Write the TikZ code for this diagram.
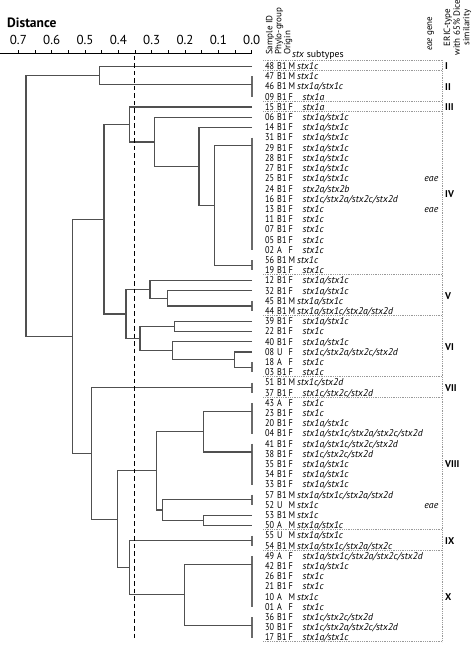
\documentclass[tikz,border=0pt]{standalone}
\usepackage{fontspec}
\setmainfont{PT Sans}
\newfontfamily\narrowpt[FakeStretch=0.84]{PT Sans}
\usetikzlibrary{calc}
\definecolor{treec}{HTML}{505050}
\definecolor{barc}{HTML}{6A6A6A}
\definecolor{boxc}{HTML}{999999}
\def\tmpM{M}
\newcommand\rowfont{\fontsize{9.8}{10}\selectfont}
\newcommand\idfont{\narrowpt\fontsize{9.8}{10}\selectfont}
\newcommand\dendrow[6]{%
  \node[idtxt] (id#1) at (265,{69.6+10.2*(#1-1)}) {#2};
  \node[idtxt] (ph#1) at (277,{69.6+10.2*(#1-1)}) {#3};
  \node[idtxt] (or#1) at (288.3,{69.6+10.2*(#1-1)}) {#4};
  \def\tmpo{#4}\ifx\tmpo\tmpM\def\stxx{297}\else\def\stxx{302.5}\fi
  \node[rowtxt,font=\rowfont\itshape] (st#1) at (\stxx,{69.6+10.2*(#1-1)}) {#5};
  \if\relax\detokenize{#6}\relax\else
  \node[rowtxt,anchor=base east,font=\rowfont\itshape] (ea#1) at (438.5,{69.6+10.2*(#1-1)}) {#6};\fi
}
\newcommand\tjoin[4]{%
  \path let \p1=($(#3)!0.5!(#4)$) in coordinate (#1) at (#2pt,\y1);
  \draw[tree] (#3) -| (#1) |- (#4);}
\newcommand\ericlab[3]{\node[erictxt] (e#1) at (445,{66.3+10.2*((#2+#3)/2-1)}) {#1};}
\begin{document}
\begin{tikzpicture}[x=1pt,y=-1pt,
  tree/.style={draw=treec,line width=1.2pt},
  leafbar/.style={draw=barc,line width=2pt},
  cut/.style={draw=black,line width=1.1pt,dash pattern=on 4.5pt off 3pt},
  sep/.style={draw=boxc,line width=0.7pt,dash pattern=on 0.9pt off 0.9pt},
  rowtxt/.style={anchor=base west,inner sep=0pt,font=\rowfont},
  idtxt/.style={anchor=base west,inner sep=0pt,font=\idfont},
  hdr/.style={inner sep=0pt,font=\fontsize{9}{9.6}\selectfont},
  erictxt/.style={anchor=west,inner sep=0pt,font=\fontsize{9.8}{10}\selectfont\bfseries},
  ticklab/.style={inner sep=0pt,font=\fontsize{13}{14}\selectfont},
  axisln/.style={draw=black,line width=1pt}]
\useasboundingbox (0,0) rectangle (472,647);
% axis
\node[inner sep=0pt,anchor=west,font=\fontsize{13.5}{14}\selectfont\bfseries] (dist) at (7,23) {Distance};
\foreach \k in {0,...,7} \node[ticklab] (t\k) at ({251.7-33.333*\k},40) {0.\k};
\coordinate (axl) at (0,54); \coordinate (axr) at (252.3,54);
\draw[axisln] (axl) -- (axr);
\foreach \k in {0,...,14} \draw[axisln] ({251.7-16.667*\k},54) -- ++(0,-3.5);
% headers
\node[hdr,rotate=90,anchor=base west] (hSample) at (272.3,55) {Sample ID};
\node[hdr,rotate=90,anchor=base west] (hPhylo) at (281.3,55) {Phylo-group};
\node[hdr,rotate=90,anchor=base west] (hOrigin) at (290.3,55) {Origin};
\node[hdr,font=\rowfont,anchor=base west] (hStx) at (292,57.5) {\textit{stx} subtypes};
\node[hdr,rotate=90,anchor=base west] (hEae) at (432,51) {\textit{eae} gene};
\node[hdr,rotate=90,align=center] (hEric) at (457.5,27.5) {ERIC-type\\with 65\% Dice\\similarity};
% rows
\dendrow{1}{48}{B1}{M}{stx1c}{}
\dendrow{2}{47}{B1}{M}{stx1c}{}
\dendrow{3}{46}{B1}{M}{stx1a/stx1c}{}
\dendrow{4}{09}{B1}{F}{stx1a}{}
\dendrow{5}{15}{B1}{F}{stx1a}{}
\dendrow{6}{06}{B1}{F}{stx1a/stx1c}{}
\dendrow{7}{14}{B1}{F}{stx1a/stx1c}{}
\dendrow{8}{31}{B1}{F}{stx1a/stx1c}{}
\dendrow{9}{29}{B1}{F}{stx1a/stx1c}{}
\dendrow{10}{28}{B1}{F}{stx1a/stx1c}{}
\dendrow{11}{27}{B1}{F}{stx1a/stx1c}{}
\dendrow{12}{25}{B1}{F}{stx1a/stx1c}{eae}
\dendrow{13}{24}{B1}{F}{stx2a/stx2b}{}
\dendrow{14}{16}{B1}{F}{stx1c/stx2a/stx2c/stx2d}{}
\dendrow{15}{13}{B1}{F}{stx1c}{eae}
\dendrow{16}{11}{B1}{F}{stx1c}{}
\dendrow{17}{07}{B1}{F}{stx1c}{}
\dendrow{18}{05}{B1}{F}{stx1c}{}
\dendrow{19}{02}{A}{F}{stx1c}{}
\dendrow{20}{56}{B1}{M}{stx1c}{}
\dendrow{21}{19}{B1}{F}{stx1c}{}
\dendrow{22}{12}{B1}{F}{stx1a/stx1c}{}
\dendrow{23}{32}{B1}{F}{stx1a/stx1c}{}
\dendrow{24}{45}{B1}{M}{stx1a/stx1c}{}
\dendrow{25}{44}{B1}{M}{stx1a/stx1c/stx2a/stx2d}{}
\dendrow{26}{39}{B1}{F}{stx1a/stx1c}{}
\dendrow{27}{22}{B1}{F}{stx1c}{}
\dendrow{28}{40}{B1}{F}{stx1a/stx1c}{}
\dendrow{29}{08}{U}{F}{stx1c/stx2a/stx2c/stx2d}{}
\dendrow{30}{18}{A}{F}{stx1c}{}
\dendrow{31}{03}{B1}{F}{stx1c}{}
\dendrow{32}{51}{B1}{M}{stx1c/stx2d}{}
\dendrow{33}{37}{B1}{F}{stx1c/stx2c/stx2d}{}
\dendrow{34}{43}{A}{F}{stx1c}{}
\dendrow{35}{23}{B1}{F}{stx1c}{}
\dendrow{36}{20}{B1}{F}{stx1a/stx1c}{}
\dendrow{37}{04}{B1}{F}{stx1a/stx1c/stx2a/stx2c/stx2d}{}
\dendrow{38}{41}{B1}{F}{stx1a/stx1c/stx2c/stx2d}{}
\dendrow{39}{38}{B1}{F}{stx1c/stx2c/stx2d}{}
\dendrow{40}{35}{B1}{F}{stx1a/stx1c}{}
\dendrow{41}{34}{B1}{F}{stx1a/stx1c}{}
\dendrow{42}{33}{B1}{F}{stx1a/stx1c}{}
\dendrow{43}{57}{B1}{M}{stx1a/stx1c/stx2a/stx2d}{}
\dendrow{44}{52}{U}{M}{stx1c}{eae}
\dendrow{45}{53}{B1}{M}{stx1c}{}
\dendrow{46}{50}{A}{M}{stx1a/stx1c}{}
\dendrow{47}{55}{U}{M}{stx1a/stx1c}{}
\dendrow{48}{54}{B1}{M}{stx1a/stx1c/stx2a/stx2c}{}
\dendrow{49}{49}{A}{F}{stx1a/stx1c/stx2a/stx2c/stx2d}{}
\dendrow{50}{42}{B1}{F}{stx1a/stx1c}{}
\dendrow{51}{26}{B1}{F}{stx1c}{}
\dendrow{52}{21}{B1}{F}{stx1c}{}
\dendrow{53}{10}{A}{M}{stx1c}{}
\dendrow{54}{01}{A}{F}{stx1c}{}
\dendrow{55}{36}{B1}{F}{stx1c/stx2c/stx2d}{}
\dendrow{56}{30}{B1}{F}{stx1c/stx2a/stx2c/stx2d}{}
\dendrow{57}{17}{B1}{F}{stx1a/stx1c}{}
% group separators
\foreach \k in {0,1,4,5,21,25,31,33,46,48,57}
  \draw[sep] (263,{70.6+10.2*(\k-1)}) -- (442,{70.6+10.2*(\k-1)});
\draw[sep] (442,60.4) -- (442,641.8);
% ERIC labels
\ericlab{I}{1}{1}
\ericlab{II}{2}{4}
\ericlab{III}{5}{5}
\ericlab{IV}{6}{21}
\ericlab{V}{22}{25}
\ericlab{VI}{26}{31}
\ericlab{VII}{32}{33}
\ericlab{VIII}{34}{46}
\ericlab{IX}{47}{48}
\ericlab{X}{49}{57}
% leaves
\foreach \n in {1,...,57} \coordinate (r\n) at (252,{66.3+10.2*(\n-1)});
\coordinate (g2) at ($(r2)+(0,8.2)$);
\coordinate (g8) at ($(r8)+(0,8.2)$);
\coordinate (g20) at ($(r20)!0.5!(r21)$);
\coordinate (g24) at ($(r24)!0.5!(r25)$);
\coordinate (g30) at ($(r30)!0.5!(r31)$);
\coordinate (g32) at ($(r32)!0.5!(r33)$);
\coordinate (g34) at ($(r34)+(0,8.2)$);
\coordinate (g38) at ($(r38)+(0,8.2)$);
\coordinate (g43) at ($(r43)!0.5!(r44)$);
\coordinate (g47) at ($(r47)!0.5!(r48)$);
\coordinate (g49) at ($(r49)+(0,8.2)$);
\coordinate (g55) at ($(r55)+(0,8.2)$);
\foreach \a/\b in {2/4,8/19,20/21,24/25,30/31,32/33,34/37,38/42,43/44,47/48,49/54,55/57}
  \draw[leafbar] (r\a) -- (r\b);
% tree
\tjoin{nA}{99.3}{r1}{g2}
\tjoin{n8}{214.3}{g8}{g20}
\tjoin{n7}{199}{r7}{n8}
\tjoin{n6}{154.7}{r6}{n7}
\tjoin{n5}{129.3}{r5}{n6}
\tjoin{nVb}{167.7}{r23}{g24}
\tjoin{nV}{150}{r22}{nVb}
\tjoin{nVIa}{174.3}{r26}{r27}
\tjoin{nVIc}{234.7}{r29}{g30}
\tjoin{nVIb}{172.7}{r28}{nVIc}
\tjoin{nVI}{140}{nVIa}{nVIb}
\tjoin{nBb}{126}{nV}{nVI}
\tjoin{nBa}{104}{n5}{nBb}
\tjoin{nVIIIa}{203.3}{g34}{g38}
\tjoin{nVIIIc}{203.3}{r45}{r46}
\tjoin{nVIIIb}{162.3}{g43}{nVIIIc}
\tjoin{nVIII}{156.7}{nVIIIa}{nVIIIb}
\tjoin{nX}{184.3}{g49}{g55}
\tjoin{nCb}{129.3}{g47}{nX}
\tjoin{nC}{117.3}{nVIII}{nCb}
\tjoin{nB2}{91.7}{g32}{nC}
\tjoin{nB}{72.7}{nBa}{nB2}
\tjoin{root}{26}{nA}{nB}
% cut-off line
\coordinate (ctop) at (134.5,56); \coordinate (cbot) at (134.5,641);
\draw[cut] (ctop) -- (cbot);
\end{tikzpicture}
\end{document}
